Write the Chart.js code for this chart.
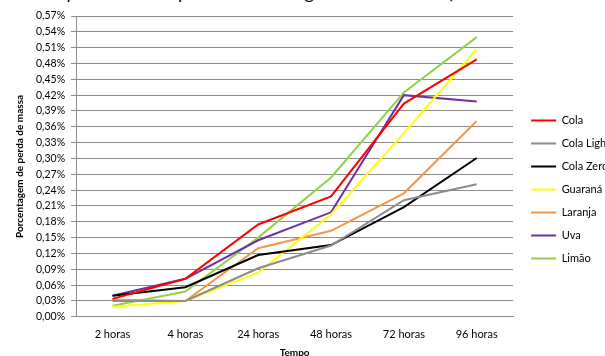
<!DOCTYPE html>
<html>
<head>
<meta charset="utf-8">
<script src="https://cdn.jsdelivr.net/npm/chart.js@4.4.0/dist/chart.umd.min.js"></script>
<style>
    html, body { margin: 0; padding: 0; background: #fff; overflow: hidden; width: 605px; height: 356px; }
    #titulo { position: absolute; top: -19px; left: -2px; font: 18px Lato, sans-serif; line-height: 22px; white-space: nowrap; color: #000; }
    #grafico { position: absolute; top: 0; left: 0; }
</style>
</head>
<body>
<div id="titulo">A média percentual da perda de massa geral das amostras)</div>
<canvas id="grafico" width="660" height="363"></canvas>
<script>
const tempos = ['2 horas', '4 horas', '24 horas', '48 horas', '72 horas', '96 horas'];

const cola      = [0.034, 0.072, 0.175, 0.228, 0.404, 0.488];
const colaLight = [0.030, 0.030, 0.092, 0.135, 0.221, 0.251];
const colaZero  = [0.040, 0.056, 0.117, 0.136, 0.208, 0.301];
const guarana   = [0.019, 0.030, 0.084, 0.194, 0.348, 0.507];
const laranja   = [0.033, 0.030, 0.130, 0.163, 0.234, 0.371];
const uva       = [0.040, 0.072, 0.145, 0.198, 0.420, 0.408];
const limao     = [0.021, 0.048, 0.150, 0.264, 0.425, 0.530];

const fonte = "Lato, 'Open Sans', sans-serif";

function serie(label, data, cor) {
    return {
        label: label,
        data: data,
        borderColor: cor,
        backgroundColor: cor,
        borderWidth: 2,
        pointRadius: 0,
        tension: 0,
        fill: false
    };
}

// espaço extra entre o gráfico e a legenda
const folgaLegenda = {
    id: 'folgaLegenda',
    beforeUpdate(chart) {
        const leg = chart.legend;
        if (!leg || leg._folga) return;
        leg._folga = true;
        const fit = leg.fit, draw = leg.draw;
        leg.fit = function () { fit.call(this); this.width += 6; };
        leg.draw = function () {
            this.ctx.save();
            this.ctx.translate(6, 0);
            draw.call(this);
            this.ctx.restore();
        };
    }
};

const ctx = document.getElementById('grafico').getContext('2d');
new Chart(ctx, {
    type: 'line',
    data: {
        labels: tempos,
        datasets: [
            serie('Cola', cola, '#ff0000'),
            serie('Cola Light', colaLight, '#8c8c8c'),
            serie('Cola Zero', colaZero, '#000000'),
            serie('Guaraná', guarana, '#ffff00'),
            serie('Laranja', laranja, '#f79646'),
            serie('Uva', uva, '#7030a0'),
            serie('Limão', limao, '#92d050')
        ]
    },
    plugins: [folgaLegenda],
    options: {
        responsive: false,
        animation: false,
        devicePixelRatio: 1,
        layout: { padding: { top: 16, left: 10, right: 40, bottom: 0 } },
        plugins: {
            tooltip: { enabled: false },
            legend: {
                position: 'right',
                labels: {
                    usePointStyle: true,
                    pointStyle: 'line',
                    pointStyleWidth: 25,
                    padding: 12,
                    color: '#000',
                    font: { family: fonte, size: 11 }
                }
            }
        },
        scales: {
            x: {
                offset: true,
                grid: { display: false },
                border: { display: true, color: '#8c8c8c' },
                ticks: { color: '#000', padding: 3, font: { family: fonte, size: 11 } },
                title: {
                    display: true,
                    text: 'Tempo',
                    color: '#000',
                    padding: { top: 3 },
                    font: { family: fonte, size: 10, weight: 'bold' }
                }
            },
            y: {
                min: 0,
                max: 0.57,
                border: { display: true, color: '#8c8c8c' },
                grid: { color: '#8c8c8c', tickLength: 5 },
                ticks: {
                    stepSize: 0.03,
                    color: '#000',
                    padding: 6,
                    font: { family: fonte, size: 10.5 },
                    callback: v => v.toFixed(2).replace('.', ',') + '%'
                },
                title: {
                    display: true,
                    text: 'Porcentagem de perda de massa',
                    color: '#000',
                    padding: 4,
                    font: { family: fonte, size: 10, weight: 'bold' }
                }
            }
        }
    }
});
</script>
</body>
</html>
